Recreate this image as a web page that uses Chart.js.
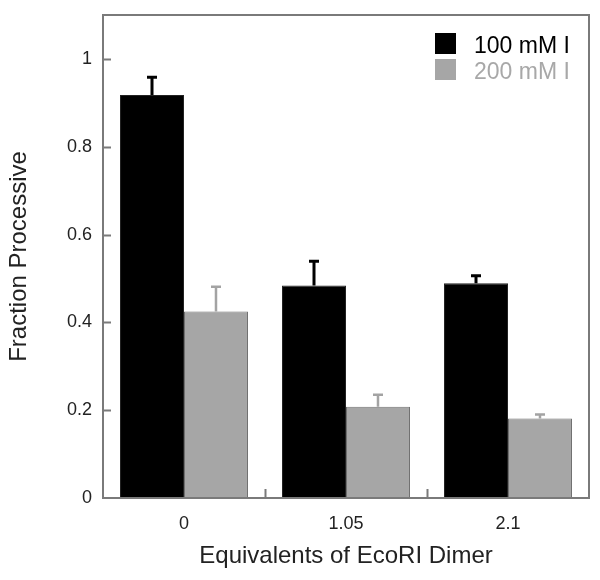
<!DOCTYPE html>
<html>
<head>
<meta charset="utf-8">
<script src="https://cdn.jsdelivr.net/npm/chart.js@4"></script>
<style>
  html, body { margin: 0; padding: 0; background: #fff; }
  #wrap { width: 600px; height: 580px; }
</style>
</head>
<body>
<div id="wrap"><canvas id="chart" width="600" height="580"></canvas></div>
<script>
// data
const categories = ['0', '1.05', '2.1'];
const series100 = [0.918, 0.484, 0.489];
const series200 = [0.425, 0.208, 0.181];
const err100 = [0.040, 0.055, 0.017];
const err200 = [0.056, 0.027, 0.009];
const yTicks = [0, 0.2, 0.4, 0.6, 0.8, 1];

const FONT = '"Liberation Sans", Arial, sans-serif';

// upward-only error bars, placed on the bar elements
const errorBars = {
  id: 'errorBars',
  afterDatasetsDraw(chart) {
    const ctx = chart.ctx;
    const y = chart.scales.y;
    chart.data.datasets.forEach((ds, i) => {
      const meta = chart.getDatasetMeta(i);
      ctx.save();
      ctx.strokeStyle = ds.errColor;
      ctx.lineWidth = ds.errWidth;
      meta.data.forEach((bar, j) => {
        const top = y.getPixelForValue(ds.data[j] + ds.errors[j]);
        ctx.beginPath();
        ctx.moveTo(bar.x, bar.y);
        ctx.lineTo(bar.x, top);
        ctx.moveTo(bar.x - 5, top);
        ctx.lineTo(bar.x + 5, top);
        ctx.stroke();
      });
      ctx.restore();
    });
  }
};

// frame box, inward ticks and in-plot legend
const frame = {
  id: 'frame',
  afterDraw(chart) {
    const ctx = chart.ctx;
    const a = chart.chartArea;
    const y = chart.scales.y;
    const x = chart.scales.x;
    ctx.save();
    ctx.strokeStyle = '#7a7a7a';
    ctx.lineWidth = 2;
    ctx.strokeRect(a.left, a.top, a.right - a.left, a.bottom - a.top);
    ctx.beginPath();
    yTicks.forEach(v => {
      const py = Math.round(y.getPixelForValue(v)) + 0.5;
      if (v === 0) return;
      ctx.moveTo(a.left, py);
      ctx.lineTo(a.left + 8, py);
    });
    for (let i = 1; i < categories.length; i++) {
      const px = Math.round((x.getPixelForValue(i - 1) + x.getPixelForValue(i)) / 2) + 0.5;
      ctx.moveTo(px, a.bottom);
      ctx.lineTo(px, a.bottom - 9);
    }
    ctx.stroke();

    // legend
    const items = chart.data.datasets;
    ctx.font = '23px ' + FONT;
    ctx.textBaseline = 'alphabetic';
    items.forEach((ds, i) => {
      const top = 33 + i * 26;
      ctx.fillStyle = ds.backgroundColor;
      ctx.fillRect(435, top, 21, 21);
      ctx.fillStyle = ds.legendColor;
      ctx.fillText(ds.label, 474, top + 20);
    });
    ctx.restore();
  }
};

new Chart(document.getElementById('chart'), {
  type: 'bar',
  data: {
    labels: categories,
    datasets: [
      {
        label: '100 mM I',
        data: series100,
        errors: err100,
        backgroundColor: '#000000',
        borderColor: '#222222',
        borderWidth: 1,
        errColor: '#000000',
        errWidth: 3,
        legendColor: '#000000'
      },
      {
        label: '200 mM I',
        data: series200,
        errors: err200,
        backgroundColor: '#a6a6a6',
        borderColor: '#707070',
        borderWidth: 1,
        errColor: '#a3a3a3',
        errWidth: 2.5,
        legendColor: '#a8a8a8'
      }
    ]
  },
  options: {
    responsive: false,
    animation: false,
    events: [],
    layout: { padding: { top: 15, right: 11, left: 0, bottom: 0 } },
    datasets: { bar: { barPercentage: 1, categoryPercentage: 0.79 } },
    plugins: { legend: { display: false }, tooltip: { enabled: false } },
    scales: {
      x: {
        grid: { display: false, drawTicks: false },
        border: { display: false },
        ticks: { color: '#222', font: { family: FONT, size: 18 }, padding: 15 },
        title: { display: true, text: 'Equivalents of EcoRI Dimer', color: '#222', font: { family: FONT, size: 24 }, padding: { top: 4, bottom: 9 } },
        afterFit(s) { s.height = 82; s.paddingLeft = 0; s.paddingRight = 0; }
      },
      y: {
        min: 0,
        max: 1.1,
        afterBuildTicks(s) { s.ticks = yTicks.map(v => ({ value: v })); },
        grid: { display: false, drawTicks: false },
        border: { display: false },
        ticks: { color: '#222', font: { family: FONT, size: 18 }, padding: 11, callback: v => String(v) },
        title: { display: true, text: 'Fraction Processive', color: '#222', font: { family: FONT, size: 24 }, padding: { top: 5, bottom: 5 } },
        afterFit(s) { s.width = 103; s.paddingTop = 0; s.paddingBottom = 0; }
      }
    }
  },
  plugins: [errorBars, frame]
});
</script>
</body>
</html>
